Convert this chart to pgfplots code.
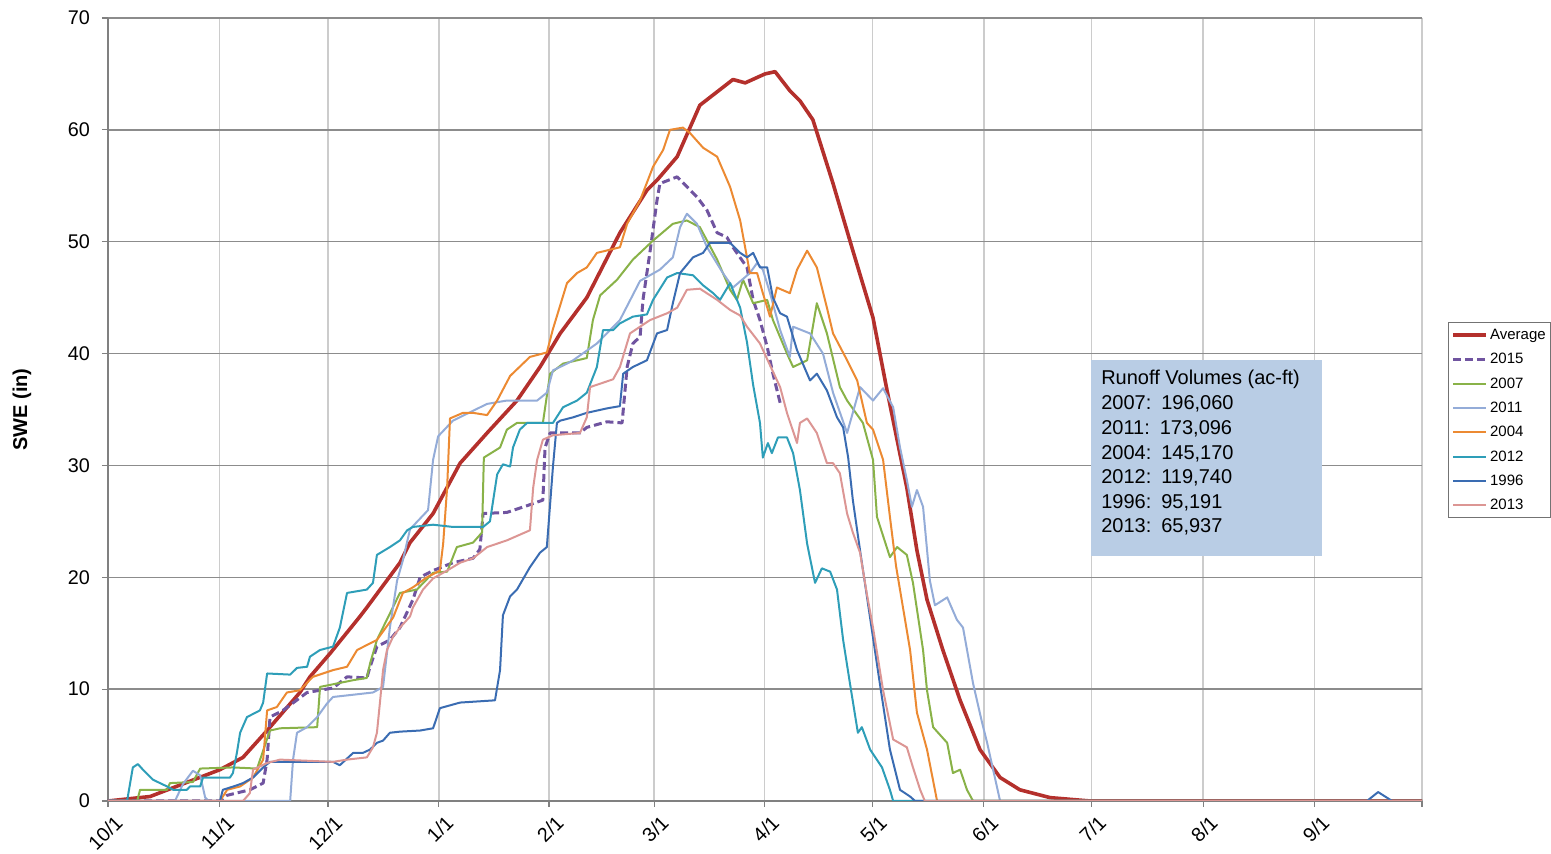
\documentclass[border=0pt]{standalone}
\usepackage{pgfplots}
\pgfplotsset{compat=1.18}
\usetikzlibrary{calc}
\usepackage{fontspec}
\setmainfont{Liberation Sans}
\newfontfamily\calibri{Carlito}
\definecolor{cavg}{RGB}{180,48,44}
\definecolor{c2015}{RGB}{112,84,160}
\definecolor{c2007}{RGB}{137,178,72}
\definecolor{c2011}{RGB}{148,172,216}
\definecolor{c2004}{RGB}{236,138,50}
\definecolor{c2012}{RGB}{46,158,184}
\definecolor{c1996}{RGB}{58,108,178}
\definecolor{c2013}{RGB}{220,150,148}
\definecolor{boxfill}{RGB}{185,205,229}
\begin{document}
\begin{tikzpicture}
\begin{axis}[name=ax,
  scale only axis, width=657pt, height=391.5pt,
  xmin=0, xmax=365, ymin=0, ymax=70,
  axis lines*=left,
  axis line style={draw=black!50, line width=0.7pt},
  xtick={0,31,61.1,91.9,122.5,151.7,182.4,212.3,243.3,273.2,304.2,335.2,365},
  xticklabels={10/1,11/1,12/1,1/1,2/1,3/1,4/1,5/1,6/1,7/1,8/1,9/1,},
  ytick={0,10,...,70},
  tick align=outside, major tick length=3pt,
  tick style={draw=black!50, line width=0.6pt},
  xmajorgrids, ymajorgrids,
  x grid style={draw=black!20, line width=0.75pt},
  y grid style={draw=black!45, line width=0.7pt},
  tick label style={font=\fontsize{9.9}{12}\selectfont},
  /pgf/number format/assume math mode=true,
  yticklabel style={xshift=-2.5pt},
  xticklabel style={rotate=45, anchor=north east, xshift=3pt, yshift=-1pt},
  ylabel={\bfseries SWE (in)},
  ylabel style={font=\fontsize{10}{12}\selectfont, at={(axis description cs:-0.0654,0.5)}, anchor=center},
  legend style={at={(rel axis cs:1.0198,0.6117)}, anchor=north west, draw=black!55, line width=0.5pt,
    font=\fontsize{7.5}{9}\selectfont, inner sep=1.5pt, row sep=2.65pt,
    nodes={inner sep=1pt, text height=6pt, text depth=1.5pt}},
  legend cell align=left,
  legend image code/.code={\draw[#1] (0cm,0cm) -- (0.58cm,0cm);},
  legend entries={Average,2015,2007,2011,2004,2012,1996,2013},
  every axis plot/.append style={line join=round},
]
% Average
\addplot[cavg, line width=1.8pt] coordinates {
(0,0) (11.7,0.4) (31.1,2.8) (37.5,3.9) (44.2,6.3) (53.3,9.7) (56.1,11.1) (61.7,13.2) (70,16.5) (71.9,17.3) (81.1,21.3) (83.9,23.1) (90.3,25.7) (97.8,30.2) (105.3,32.9) (113.6,35.8) (120,38.8) (125.6,41.8) (133,45.0) (142.2,50.8) (149.7,54.6) (152.5,55.5) (158.1,57.6) (164.4,62.2) (173.6,64.5) (177,64.2) (182.5,65.0) (185.3,65.2) (189.4,63.5) (192.2,62.6) (195.8,60.9) (201.4,55.2) (206.9,49.2) (212.5,43.2) (216.4,36.7) (221.9,28) (224.7,22.4) (227.5,18) (231.9,13.5) (236.7,9) (242.2,4.6) (247.8,2.1) (253.3,1.0) (261.7,0.3) (272.8,0) (365,0)};
% 2015
\addplot[c2015, line width=1.5pt, dash pattern=on 4pt off 2pt] coordinates {
(0,0) (31.1,0) (33,0.5) (39.4,1.0) (43.1,1.6) (44.2,3.7) (45,7.5) (48.6,8.1) (55.3,9.7) (62.5,10.1) (66.4,11.1) (71.9,11.0) (72.8,12) (74.7,13.8) (78.3,14.4) (81.1,15.5) (84.7,18) (86.7,20) (90.3,20.6) (95.8,21.3) (101.4,21.7) (103.3,22.5) (104.2,25.7) (110.8,25.8) (116.4,26.4) (120.8,26.9) (121.4,31.6) (122.8,32.9) (131.1,32.9) (133,33.4) (138.6,33.9) (142.8,33.8) (144.2,38.8) (145.8,40.9) (147.8,41.5) (148.6,44.8) (150.6,49.2) (152.5,53.7) (153.3,55.2) (158.1,55.8) (163.6,54) (166.4,52.8) (169.2,50.8) (171.9,50.4) (173.6,49.5) (177.5,47.7) (179.2,44.8) (181.1,43) (183.1,40.6) (184.7,38.2) (186.7,35.6)};
% 2007
\addplot[c2007, line width=1pt] coordinates {
(0,0) (8.1,0) (8.9,1) (13.6,1) (16.4,1) (17.2,1.6) (23.6,1.7) (25.6,2.9) (34.7,3.0) (41.4,2.9) (45,6.3) (47.8,6.5) (58.1,6.6) (58.9,10.2) (68.1,10.8) (71.9,11.0) (72.8,12.3) (74.7,14.4) (81.1,18.6) (85.8,18.9) (90.3,20.4) (94.2,20.5) (96.9,22.7) (101.4,23.1) (103.9,24.0) (104.4,30.7) (108.9,31.6) (110.8,33.2) (113.6,33.8) (120.8,33.8) (122.8,38.2) (126.4,39.1) (133,39.6) (134.7,43) (136.7,45.2) (141.4,46.6) (145.8,48.4) (151.4,50.1) (156.9,51.6) (160.8,51.9) (164.4,51.3) (166.4,50.1) (169.2,48.4) (172.8,45.7) (174.7,44.8) (176.4,46.6) (179.2,44.5) (183.1,44.8) (184.7,43) (188.6,40) (190.3,38.8) (194.2,39.4) (196.9,44.5) (199.7,41.8) (203.3,37) (205.3,35.8) (209.7,33.8) (212.5,30.5) (213.6,25.4) (217.2,21.8) (219.2,22.7) (221.9,22.0) (223.6,19.5) (226.4,13.5) (227.5,9.9) (229.2,6.6) (233.1,5.2) (234.7,2.5) (236.7,2.8) (238.6,1.0) (240.3,0) (365,0)};
% 2011
\addplot[c2011, line width=1pt] coordinates {
(0,0) (18.6,0) (20.8,1.5) (23.6,2.7) (25.6,2.3) (27,0.3) (28,0) (50.6,0) (51.4,3.7) (52.5,6.1) (55.3,6.6) (58.1,7.5) (60.8,8.7) (62.5,9.3) (68.1,9.5) (73.6,9.7) (76.4,10.2) (78.3,15.5) (80.3,19.7) (81.9,21.5) (83.9,24.3) (88.9,26) (90.3,30.5) (91.7,32.6) (95.8,34) (105.3,35.5) (110.8,35.8) (119.2,35.8) (121.9,36.5) (123.6,38.5) (127.5,39.1) (129.2,39.4) (135.8,40.9) (142.2,43) (147.8,46.5) (153.3,47.5) (156.9,48.6) (158.9,51.3) (160.8,52.5) (163.6,51.6) (166.4,49.5) (170.8,47.2) (173.6,45.9) (178.3,47.2) (180.3,48.1) (181.9,47.5) (183.9,45.4) (186.7,42.1) (189.4,39.7) (190.3,42.4) (195,41.8) (198.6,40) (201.4,36.5) (205.3,32.9) (208.9,37) (212.5,35.8) (215.3,36.9) (218.1,35.2) (220,31.6) (221.9,28.7) (223.3,26.3) (224.7,27.8) (226.4,26.3) (228.3,19.7) (229.7,17.5) (233.1,18.2) (235.8,16.2) (237.5,15.5) (240.3,10.5) (242.8,7) (244.2,5.2) (247.8,0) (365,0)};
% 2004
\addplot[c2004, line width=1pt] coordinates {
(0,0) (31.1,0) (33.1,1) (36.7,1.3) (40.3,2.1) (43.1,3.7) (44.2,8.1) (46.9,8.4) (49.7,9.7) (53.3,9.9) (56.9,11.1) (62.5,11.7) (66.4,12) (69.2,13.5) (74.7,14.4) (79.2,16.4) (81.9,18.6) (84.7,19.1) (88.6,20) (92.2,20.6) (93.1,23) (94.2,28) (95,34.2) (98.6,34.7) (101.4,34.7) (105.3,34.5) (108.1,35.8) (111.7,38.0) (117.2,39.7) (121.9,40.1) (123.6,42.2) (127.5,46.3) (130.3,47.2) (133,47.7) (135.8,49) (142.2,49.5) (144.2,51.6) (147.8,53.7) (151.4,56.7) (154.2,58.2) (156.1,60) (159.7,60.2) (161.7,59.7) (165.3,58.4) (169.2,57.6) (172.8,54.9) (175.6,51.9) (178.3,47.2) (180.3,47.2) (181.9,45.4) (183.9,43.3) (185.8,45.9) (189.4,45.4) (191.4,47.5) (194.2,49.2) (196.9,47.7) (199.7,44.1) (201.4,41.8) (205.3,39.4) (208.1,37.6) (210.8,33.8) (212.5,33.2) (215.3,30.5) (217.2,25.4) (218.9,21) (222.8,13.5) (224.7,7.9) (227.5,4.6) (230.3,0) (365,0)};
% 2012
\addplot[c2012, line width=1pt] coordinates {
(0,0) (5.3,0) (6.9,3.0) (8.3,3.3) (9.7,2.8) (12.5,1.9) (16.4,1.3) (18.1,1.0) (21.9,1.0) (22.8,1.3) (25.6,1.3) (26.4,2.1) (33.9,2.1) (34.7,2.5) (35.8,4.3) (36.7,6.1) (38.6,7.5) (42.2,8.1) (43.1,8.8) (44.2,11.4) (50.6,11.3) (52.5,11.9) (55.3,12) (56.1,12.9) (58.9,13.5) (62.5,13.8) (64.4,15.5) (66.4,18.6) (71.9,18.9) (73.6,19.5) (74.7,22.0) (78.3,22.7) (81.1,23.3) (83.1,24.2) (84.7,24.5) (90.3,24.7) (95.8,24.5) (104.2,24.5) (106.1,25) (108.1,29.2) (109.7,30.1) (111.7,29.9) (112.5,31.6) (114.4,33.2) (116.4,33.8) (123.6,33.8) (126.4,35.2) (130.3,35.8) (133,36.5) (135.8,38.8) (137.5,42.1) (140.3,42.1) (142.2,42.7) (145.8,43.3) (149.7,43.5) (151.4,44.8) (155.3,46.8) (158.1,47.2) (162.5,47) (165.3,46.1) (168.1,45.4) (170,44.8) (172.8,46.3) (175.6,44.1) (177.5,41) (179.2,37.2) (181.1,33.8) (181.9,30.7) (183.3,32) (184.4,31.1) (186.1,32.5) (188.6,32.5) (190.3,31.1) (192.2,27.8) (194.2,23) (196.4,19.5) (198.3,20.8) (200.6,20.5) (202.5,18.9) (204.2,14.4) (206.1,10.5) (208.3,6.1) (209.4,6.6) (211.7,4.6) (215,3) (217.2,1) (218.1,0) (365,0)};
% 1996
\addplot[c1996, line width=1pt] coordinates {
(0,0) (31.1,0) (31.9,1) (35.8,1.4) (37.5,1.6) (40.3,2.1) (43.1,3.0) (45,3.5) (62.5,3.5) (64.4,3.2) (68.1,4.3) (70.8,4.3) (72.8,4.6) (74.7,5.2) (76.4,5.4) (78.3,6.1) (81.1,6.2) (86.7,6.3) (90.3,6.5) (92.2,8.3) (97.8,8.8) (107.5,9.0) (108.9,11.7) (109.7,16.6) (111.7,18.3) (113.6,18.9) (117.2,20.9) (120,22.2) (121.9,22.7) (123.6,29.9) (124.7,33.8) (125.6,34) (129.2,34.3) (133,34.7) (138.6,35.1) (142.2,35.3) (143.1,38.2) (145.8,38.8) (149.7,39.4) (152.5,41.8) (155.3,42.1) (156.9,44.5) (158.9,47.2) (162.5,48.6) (165.3,49) (167.2,49.9) (172.8,49.9) (175.6,49) (177.5,48.6) (179.2,49) (181.1,47.7) (183.1,47.7) (184.7,45) (186.7,43.6) (188.6,43.3) (191.4,40.3) (195,37.6) (196.9,38.2) (199.7,36.7) (202.5,34.3) (204.2,33.4) (205.6,30.7) (206.9,26.9) (208.9,22.4) (210.8,18.3) (214.4,10.5) (217.2,4.6) (220,1) (222.8,0.4) (224.2,0) (349.7,0) (352.8,0.8) (356.7,0) (365,0)};
% 2013
\addplot[c2013, line width=1pt] coordinates {
(0,0) (37.5,0) (39.4,0.7) (40.3,2.8) (44.2,3.4) (47.8,3.7) (62.5,3.5) (66.4,3.7) (71.9,3.9) (73.6,4.8) (74.7,6.1) (75.6,9) (76.4,11.7) (77.5,13.5) (79.2,14.7) (81.1,15.5) (83.9,16.5) (84.7,17.3) (87.5,18.9) (90.3,19.9) (94.2,20.6) (97.8,21.3) (101.4,21.7) (105.3,22.7) (110.8,23.3) (117.2,24.2) (118.1,28) (119.2,30.5) (120.8,32.3) (123.6,32.7) (131.1,32.9) (133,34.3) (133.9,37) (140.3,37.7) (142.2,38.8) (145,41.8) (150.6,43) (155.3,43.6) (158.1,44.1) (160.8,45.7) (164.4,45.8) (169.2,44.8) (172.8,43.9) (175.6,43.4) (177.5,42.4) (181.1,40.9) (183.1,39.5) (186.7,37) (188.6,34.7) (191.4,32) (192.2,33.8) (194.2,34.2) (196.9,32.9) (199.7,30.2) (201.4,30.2) (203.3,29.3) (205.3,25.7) (206.9,24) (208.9,22.2) (210.8,18.5) (212.5,15.5) (215.3,9.9) (218.1,5.5) (221.9,4.8) (223.6,3) (225.6,1) (226.9,0) (365,0)};
% text box
\fill[boxfill] (axis cs:273.06,39.42) rectangle (axis cs:337.2,21.9);
\begingroup\calibri\fontsize{10}{12}\selectfont
\node[anchor=base west, inner sep=0] at (axis cs:275.8,37.19) {Runoff Volumes (ac-ft)};
\node[anchor=base west, inner sep=0] at (axis cs:275.8,34.98) {2007:\enspace 196,060};
\node[anchor=base west, inner sep=0] at (axis cs:275.8,32.78) {2011:\enspace 173,096};
\node[anchor=base west, inner sep=0] at (axis cs:275.8,30.57) {2004:\enspace 145,170};
\node[anchor=base west, inner sep=0] at (axis cs:275.8,28.37) {2012:\enspace 119,740};
\node[anchor=base west, inner sep=0] at (axis cs:275.8,26.16) {1996:\enspace 95,191};
\node[anchor=base west, inner sep=0] at (axis cs:275.8,23.96) {2013:\enspace 65,937};
\endgroup
\end{axis}
\pgfresetboundingbox
\path[use as bounding box] ($(ax.south west)+(-54pt,-26.5pt)$) rectangle ($(ax.north east)+(64.5pt,9pt)$);
\end{tikzpicture}
\end{document}
